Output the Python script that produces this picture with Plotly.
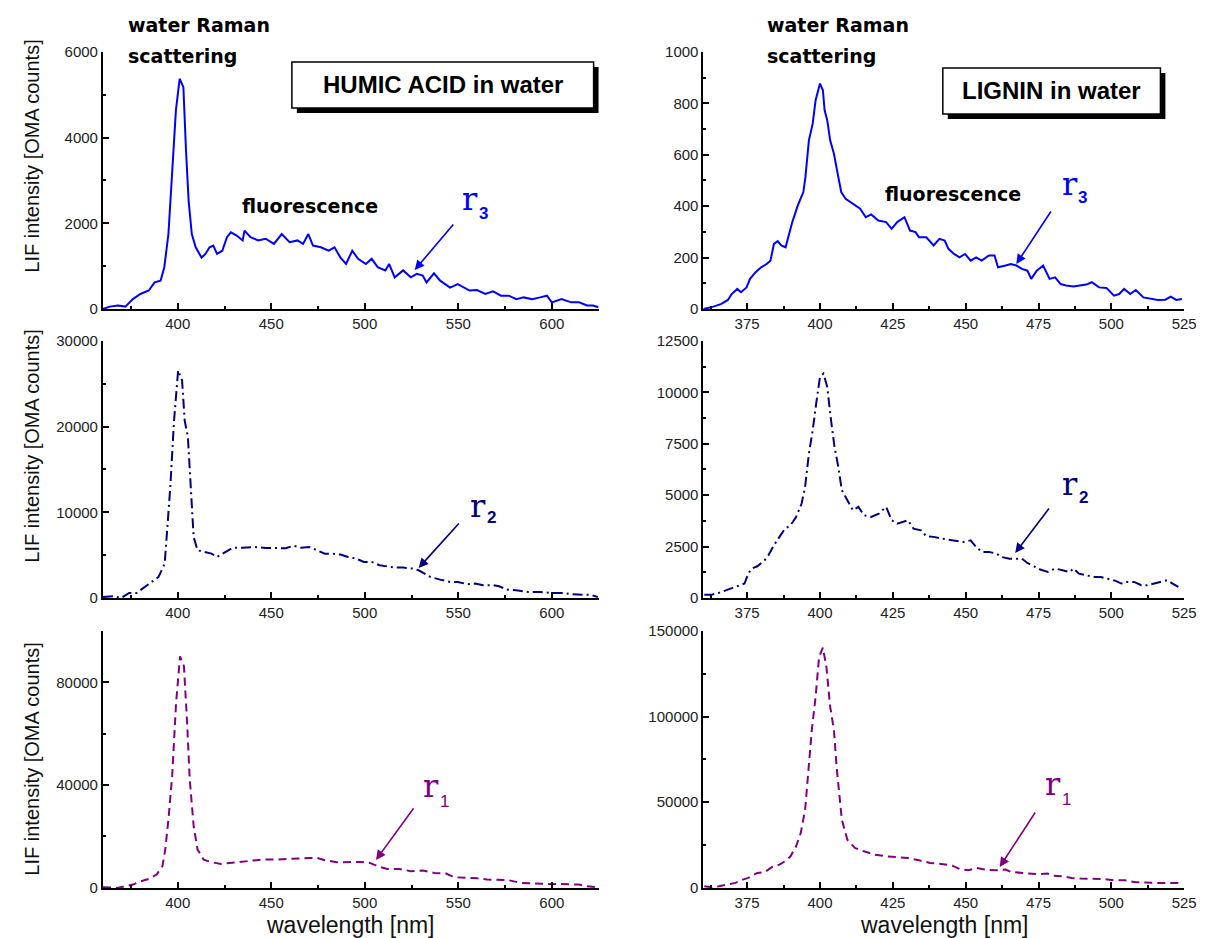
import plotly.graph_objects as go

W, H = 1206, 938


# target-picture pixel -> paper fraction (small vertical calibration for how the page is photographed)
def px(x):
    return x / W


def py(y):
    return 1 - ((y - 17) / 0.982) / H


# ---------------- data ----------------
# HUMIC ACID, r3 (top-left)
ha_r3_wl = [360, 363.6, 368, 372, 376, 380, 384.5, 387.6, 390.8, 392.8, 395, 397, 399, 401, 403, 404.4,
            405.8, 407.5, 409.6, 412.7, 414.8, 417, 419, 421, 423.8, 426.3, 428.4, 431.5, 434.7, 435.7,
            438.9, 443, 447, 451.4, 455.6, 459.8, 464, 467, 469.8, 472.3, 476.5, 480.7, 483.8, 487, 490,
            493.3, 496.4, 500.6, 503.7, 506.9, 511, 513, 516, 520.5, 524.6, 527.8, 531, 533, 537, 540.3,
            545.6, 549.7, 552.9, 556, 560, 564.4, 568.6, 572.8, 577, 581, 585, 589.5, 593.7, 597.4, 600,
            605.2, 610.4, 614.6, 618.8, 622, 625]
ha_r3_int = [0, 55, 80, 55, 230, 350, 430, 620, 660, 975, 1750, 3300, 4635, 5375, 5180, 3700,
             2530, 1750, 1440, 1200, 1285, 1440, 1480, 1285, 1360, 1675, 1790, 1715, 1600, 1830,
             1675, 1600, 1640, 1520, 1750, 1560, 1600, 1520, 1750, 1480, 1440, 1360, 1440, 1200, 1050,
             1360, 1170, 1050, 1170, 975, 900, 1050, 740, 900, 740, 820, 780, 620, 830, 660,
             500, 580, 500, 430, 440, 350, 410, 310, 310, 230, 270, 230, 270, 310, 155,
             230, 155, 155, 80, 80, 40]

# LIGNIN, r3 (top-right)
lg_r3_wl = [360, 361.5, 363.4, 366, 368.4, 369.7, 371.6, 372.9, 374.8, 376, 377.9, 379.8, 381.7, 383,
            384.2, 385.5, 386.7, 388.2, 389.3, 390.5, 392.4, 394.3, 395, 396.2, 397.5, 398.5, 400, 401,
            401.6, 402.5, 403.5, 404.8, 406.3, 407.3, 408.8, 411.3, 413.8, 415.7, 417.6, 420, 422.7,
            424.6, 426.5, 429, 430.9, 432.8, 434, 436.5, 439, 441, 442.8, 444.1, 446, 447.9, 449.8,
            451.7, 453.6, 455.5, 458, 459.9, 461.1, 463.7, 465.5, 467.4, 469.3, 471.2, 472.5, 474.4,
            476.6, 478.8, 480.7, 482.6, 484.5, 487, 489.5, 491.4, 493.3, 495.8, 498.3, 500.9, 502.7,
            504.4, 506.5, 508.4, 511, 513.5, 516, 518.5, 520.4, 522.3, 524.2]
lg_r3_int = [0, 4, 9, 19, 35, 58, 78, 65, 84, 117, 143, 162, 175, 188,
             253, 264, 247, 240, 292, 338, 403, 455, 513, 656, 721, 812, 877, 851,
             773, 734, 656, 604, 513, 455, 429, 409, 390, 357, 368, 344, 338,
             312, 338, 357, 305, 299, 279, 279, 247, 273, 266, 234, 214, 201, 214,
             188, 201, 188, 208, 208, 162, 169, 175, 169, 156, 149, 117, 149,
             169, 117, 123, 97, 91, 87, 91, 95, 104, 84, 82, 52, 58,
             78, 58, 74, 45, 39, 35, 36, 48, 35, 39]

# HUMIC ACID, r2 (middle-left)
ha_r2_wl = [360, 365.6, 369.8, 374, 378, 382.4, 386.6, 389.7, 393, 394, 396, 398, 400.2, 402.3, 403.7,
            405.4, 407, 408.5, 410.6, 413.8, 418, 421, 425.3, 429.5, 434.7, 441, 447.2, 453.5, 457.7,
            461.9, 466, 470.3, 474.4, 478.6, 482.8, 487, 491, 495.4, 499.5, 503.7, 507.9, 512, 516.3,
            520.5, 525.7, 528.8, 532, 535, 540.3, 545.6, 549.7, 555, 559, 563.3, 568.6, 571.8, 576,
            581, 587.4, 593.7, 600, 606.2, 610.4, 616.7, 621, 624.6]
ha_r2_int = [117, 195, 0, 580, 580, 1280, 1870, 2450, 4000, 7100, 12950, 20700, 26570, 25400, 20700,
             18800, 12950, 7100, 5560, 5370, 5170, 4780, 5370, 5870, 5870, 5950, 5835, 5835, 5800,
             6100, 5870, 5950, 5560, 5170, 5170, 5060, 4780, 4590, 4200, 4200, 3810, 3700, 3540,
             3540, 3420, 3230, 2840, 2450, 2140, 1870, 1870, 1600, 1670, 1480, 1480, 1360, 970,
             890, 700, 700, 580, 580, 430, 350, 350, 117]

# LIGNIN, r2 (middle-right)
lg_r2_wl = [360.3, 362.8, 365.3, 367.8, 369.7, 372.2, 374.1, 375.4, 376.6, 378.5, 381, 382.3, 384.2,
            386.1, 388, 389.9, 391.8, 393.7, 394.9, 396.2, 397.5, 398.7, 400, 401.2, 402.5, 403.8,
            405, 406.3, 407.5, 409.4, 411.3, 413.2, 415.1, 417.6, 420.2, 422.7, 424.6, 426.5, 428.3,
            430.2, 432.1, 434.7, 436.5, 439, 441.6, 444.1, 446.6, 449.2, 451.7, 453.6, 455.5, 458,
            460.5, 462.4, 465, 467.4, 469.3, 471.2, 473.7, 475.6, 478.2, 480.7, 483.2, 485.7, 487,
            488.9, 491.4, 493.9, 496.4, 499, 501.5, 503.4, 505.3, 507.8, 510.3, 512.2, 514.7, 517.3,
            519.1, 521, 523]
lg_r2_int = [160, 160, 245, 370, 455, 615, 700, 1180, 1430, 1540, 1830, 2075, 2560,
             2970, 3370, 3530, 3940, 4590, 5400, 7020, 8150, 9450, 10750, 10910, 10260, 8640,
             7340, 6370, 5240, 4750, 4260, 4430, 4020, 3940, 4100, 4430, 3780, 3610, 3700,
             3780, 3370, 3290, 3000, 2970, 2890, 2840, 2770, 2720, 2800, 2480, 2240, 2240,
             2160, 1990, 1910, 1910, 1910, 1700, 1510, 1380, 1260, 1430, 1350, 1260, 1430,
             1180, 1100, 1020, 1020, 940, 830, 700, 780, 780, 615, 615, 700, 780,
             860, 700, 535]

# HUMIC ACID, r1 (bottom-left)
ha_r1_wl = [360, 367.7, 372, 376, 380.3, 384.5, 388.7, 391.8, 393.3, 395, 397, 399.1, 401.2, 403.3,
            405, 406.4, 408.5, 410.6, 413.8, 418, 423.2, 428.4, 433.6, 438.9, 445, 451.4, 457.7, 464,
            470.3, 474.4, 478.6, 484.9, 491.2, 497.4, 502.7, 506.9, 512, 518.4, 524.6, 531, 537.2,
            543.5, 547.7, 554, 560.2, 565.4, 570.7, 577, 583.2, 589.5, 595.8, 602, 608.3, 614.6,
            618.8, 624]
ha_r1_int = [260, 0, 650, 1300, 2600, 3500, 5190, 8430, 14900, 26600, 43450, 72000, 90100, 86250,
             64200, 42150, 24000, 14900, 11000, 9990, 9340, 9730, 10120, 10770, 11000, 11000, 11280,
             11540, 11670, 11670, 10770, 9990, 9990, 10120, 9730, 8430, 7390, 7390, 6490, 6740, 5840,
             5580, 4150, 3890, 3760, 3240, 3240, 2980, 1950, 1690, 1560, 1560, 1300, 1300,
             650, 260]

# LIGNIN, r1 (bottom-right)
lg_r1_wl = [360.3, 362.8, 365.3, 368.4, 371, 373.5, 375.4, 378.5, 381, 383.6, 386.1, 388, 389.9,
            391.8, 393.4, 394.9, 396.2, 397.2, 398.5, 399.7, 401, 402.2, 403.5, 404.8, 405.7, 406.5,
            407.5, 409.4, 412, 415.1, 418.9, 422.7, 426.5, 430.2, 434, 437.8, 441.6, 445.4, 447.9,
            451, 453.6, 456.7, 460.5, 463.7, 465.5, 468.7, 471.9, 475, 478.2, 480, 483.2, 486.4,
            489.5, 493.3, 497.1, 500.9, 504.6, 508.4, 512.2, 516, 519.8, 524.2]
lg_r1_int = [970, 390, 970, 1940, 2910, 4850, 5820, 8730, 9120, 12220, 13580, 15520, 18430,
             24250, 32000, 45600, 70800, 92150, 111550, 134830, 140260, 129000, 105730, 92150, 70800, 55300,
             39770, 28130, 23280, 21340, 19400, 18430, 18040, 17460, 16100, 14550, 13970, 13000, 11060,
             10280, 11640, 10670, 10280, 10670, 9310, 8730, 8340, 7950, 8340, 7180, 6790, 5820,
             5430, 5240, 5240, 4460, 4460, 3300, 2910, 2910, 2910, 2910]

# axis settings
x_ranges = {"left": [360, 625], "right": [360, 525]}
x_dticks = {"left": (50, 25), "right": (25, 12.5)}
y_ranges = [[0, 6000], [0, 1000], [0, 30000], [0, 12500], [0, 100000], [0, 150000]]
y_dticks = [(2000, 1000), (200, 100), (10000, 5000), (2500, 1250), (40000, 20000), (50000, 25000)]

BLUE = "#0000FF"
NAVY = "#000080"
PURPLE = "#800080"

# ---------------- figure ----------------
x_dom = {"left": [px(96), px(597)], "right": [px(703), px(1189)]}
y_dom = [[py(309), py(52)], [py(598), py(341)], [py(888), py(631)]]

series = [
    (ha_r3_wl, ha_r3_int, BLUE, "solid"),
    (lg_r3_wl, lg_r3_int, BLUE, "solid"),
    (ha_r2_wl, ha_r2_int, NAVY, "10px,4px,2px,4px"),
    (lg_r2_wl, lg_r2_int, NAVY, "10px,4px,2px,4px"),
    (ha_r1_wl, ha_r1_int, PURPLE, "8px,5px"),
    (lg_r1_wl, lg_r1_int, PURPLE, "8px,5px"),
]

fig = go.Figure()
TICKFONT = dict(family="Liberation Sans, Arial, sans-serif", size=15, color="#222222")
layout = {}
for i, (xs, ys, col, dash) in enumerate(series):
    n = i + 1
    side = "left" if i % 2 == 0 else "right"
    row = i // 2
    xn = "x" if n == 1 else f"x{n}"
    yn = "y" if n == 1 else f"y{n}"
    fig.add_trace(go.Scatter(x=xs, y=ys, mode="lines", xaxis=xn, yaxis=yn,
                             line=dict(color=col, width=2, dash=dash), showlegend=False,
                             hoverinfo="skip"))
    xd, xm = x_dticks[side]
    yd, ym = y_dticks[i]
    layout["xaxis" if n == 1 else f"xaxis{n}"] = dict(
        domain=x_dom[side], anchor=yn, range=x_ranges[side], dtick=xd, tick0=0,
        showline=True, linecolor="black", linewidth=2, ticks="inside", ticklen=6, tickwidth=1.5,
        tickcolor="black", showgrid=False, zeroline=False, tickfont=TICKFONT, tickformat="d",
        ticklabeloverflow="allow",
        minor=dict(dtick=xm, tick0=0, ticks="inside", ticklen=3, tickwidth=1.5, tickcolor="black",
                   showgrid=False))
    layout["yaxis" if n == 1 else f"yaxis{n}"] = dict(
        domain=y_dom[row], anchor=xn, range=y_ranges[i], dtick=yd, tick0=0,
        showline=True, linecolor="black", linewidth=2, ticks="inside", ticklen=6, tickwidth=1.5,
        tickcolor="black", showgrid=False, zeroline=False, tickfont=TICKFONT, tickformat="d",
        ticklabeloverflow="allow",
        minor=dict(dtick=ym, tick0=0, ticks="inside", ticklen=3, tickwidth=1.5, tickcolor="black",
                   showgrid=False))

fig.update_layout(**layout)

ann = []
BOLD = "DejaVu Sans, sans-serif"
# y-axis titles (left column)
for yc in (156, 446, 759):
    ann.append(dict(xref="paper", yref="paper", x=px(24), y=py(yc), text="LIF intensity [OMA counts]",
                    textangle=-90, showarrow=False, xanchor="center", yanchor="middle",
                    font=dict(family="Liberation Sans, Arial, sans-serif", size=20, color="#111111")))
# x-axis titles
for xc in (346, 946):
    ann.append(dict(xref="paper", yref="paper", x=px(xc), y=py(925), text="wavelength [nm]",
                    showarrow=False, xanchor="center", yanchor="middle",
                    font=dict(family="Liberation Sans, Arial, sans-serif", size=23, color="#111111")))
# water Raman scattering / fluorescence labels
for xl in (119, 765):
    ann.append(dict(xref="paper", yref="paper", x=px(xl), y=py(25), text="<b>water Raman</b>",
                    showarrow=False, xanchor="left", yanchor="middle",
                    font=dict(family=BOLD, size=19, color="black")))
    ann.append(dict(xref="paper", yref="paper", x=px(xl), y=py(56), text="<b>scattering</b>",
                    showarrow=False, xanchor="left", yanchor="middle",
                    font=dict(family=BOLD, size=19, color="black")))
ann.append(dict(xref="paper", yref="paper", x=px(235), y=py(206), text="<b>fluorescence</b>",
                showarrow=False, xanchor="left", yanchor="middle",
                font=dict(family=BOLD, size=19, color="black")))
ann.append(dict(xref="paper", yref="paper", x=px(885), y=py(194), text="<b>fluorescence</b>",
                showarrow=False, xanchor="left", yanchor="middle",
                font=dict(family=BOLD, size=19, color="black")))
# titled boxes
boxes = [(287, 62, 592, 108, "HUMIC ACID in water"), (945, 68, 1165, 114, "LIGNIN in water")]
shapes = []
for x0, y0, x1, y1, t in boxes:
    shapes.append(dict(type="rect", xref="paper", yref="paper", x0=px(x0 + 5), x1=px(x1 + 5),
                       y0=py(y1 + 5), y1=py(y0 + 5), fillcolor="black", line=dict(width=0),
                       layer="above"))
    shapes.append(dict(type="rect", xref="paper", yref="paper", x0=px(x0), x1=px(x1),
                       y0=py(y1), y1=py(y0), fillcolor="white", line=dict(color="black", width=1.5),
                       layer="above"))
    ann.append(dict(xref="paper", yref="paper", x=px((x0 + x1) / 2), y=py((y0 + y1) / 2),
                    text=f"<b>{t}</b>", showarrow=False, xanchor="center", yanchor="middle",
                    font=dict(family="Liberation Sans, Arial, sans-serif", size=24, color="black")))

# r labels with arrows: (panel, r-left px, r-center py, sub-left px, sub-center py, digit, color,
#                        head x, head y, tail x, tail y)
rlabels = [
    (1, 457, 199, 474, 214, "3", BLUE, 526.7, 910, 548, 2008),
    (2, 1063, 184, 1080, 198, "3", BLUE, 467.4, 175, 479.6, 385),
    (3, 465, 506, 482, 518, "2", NAVY, 528.8, 3500, 551, 8870),
    (4, 1063, 484, 1081, 498, "2", NAVY, 467, 2190, 479, 4426),
    (5, 417, 786, 435, 802, "1", PURPLE, 506, 10900, 526.7, 31600),
    (6, 1046, 784, 1063, 800, "1", PURPLE, 461.7, 12260, 474.2, 44900),
]
for n, rx, ry, sx, sy, d, col, hx, hy, tx, ty in rlabels:
    ann.append(dict(xref="paper", yref="paper", x=px(rx), y=py(ry), text="r", showarrow=False,
                    xanchor="left", yanchor="middle",
                    font=dict(family="DejaVu Serif, serif", size=32, color=col)))
    ann.append(dict(xref="paper", yref="paper", x=px(sx), y=py(sy),
                    text=(f"<b>{d}</b>" if d != "1" else d), showarrow=False,
                    xanchor="left", yanchor="middle",
                    font=dict(family="Liberation Sans, Arial, sans-serif", size=17, color=col)))
    xr = "x" if n == 1 else f"x{n}"
    yr = "y" if n == 1 else f"y{n}"
    ann.append(dict(xref=xr, yref=yr, x=hx, y=hy, axref=xr, ayref=yr, ax=tx, ay=ty, text="",
                    showarrow=True, arrowhead=2, arrowsize=1.2, arrowwidth=1.6, arrowcolor=col,
                    standoff=0))

fig.update_layout(width=W, height=H, margin=dict(l=0, r=0, t=0, b=0), paper_bgcolor="white",
                  plot_bgcolor="white", annotations=ann, shapes=shapes, showlegend=False)

fig.write_html("out.html")
